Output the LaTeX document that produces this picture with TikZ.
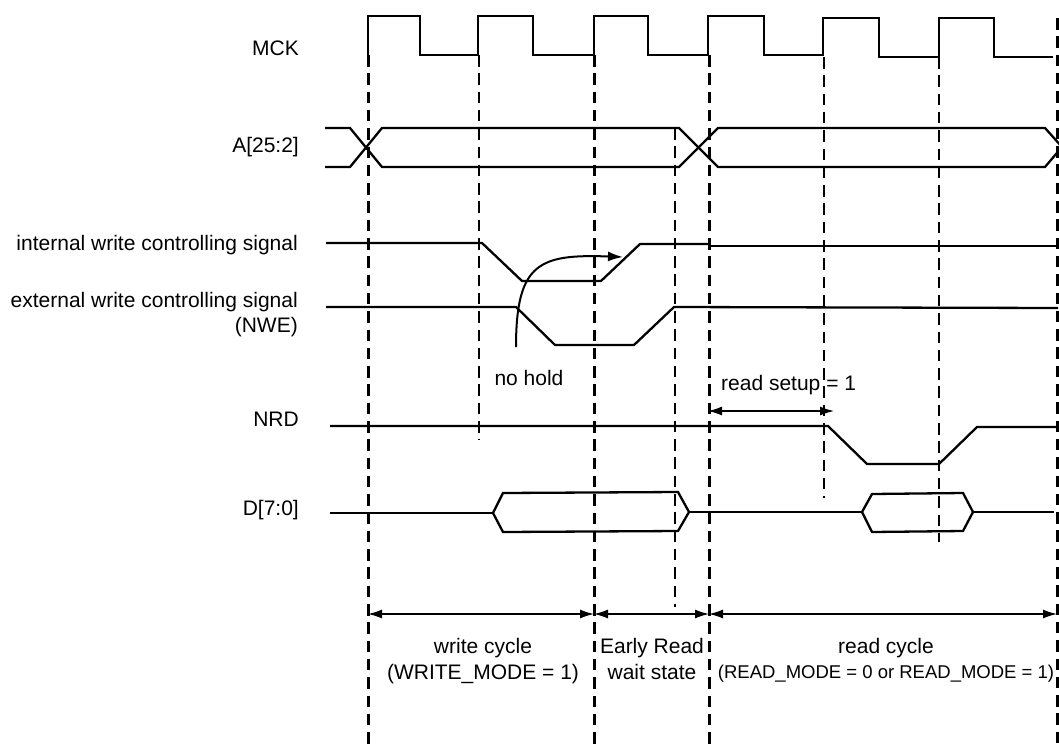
\documentclass[tikz,border=0pt]{standalone}
\usepackage{fontspec}
\setmainfont{Liberation Sans}
\usetikzlibrary{arrows.meta}
\begin{document}
\begin{tikzpicture}[x=1pt,y=-1pt,
  sig/.style={line width=2.3pt, line join=miter},
  thickguide/.style={line width=3pt, dash pattern=on 11.5pt off 6.8pt},
  thinguide/.style={line width=1.3pt, dash pattern=on 11.5pt off 6.8pt},
  lbl/.style={font=\fontsize{21}{25}\selectfont, inner sep=0pt},
  smalllbl/.style={font=\fontsize{18.5}{22}\selectfont, inner sep=0pt},
  dim/.style={line width=1.4pt, {Latex[length=14pt,width=9pt]}-{Latex[length=14pt,width=9pt]}}]
\useasboundingbox (0,0) rectangle (1059,744);
\fill[white] (0,0) rectangle (1059,744);

% signal labels
\node[lbl,anchor=base east] (mck) at (299,55) {MCK};
\node[lbl,anchor=base east] (abus) at (299,152) {A[25:2]};
\node[lbl,anchor=base east] (iw) at (298,250) {internal write controlling signal};
\node[lbl,anchor=base east] (ew) at (298,307) {external write controlling signal};
\node[lbl,anchor=base east] (nwe) at (298,332) {(NWE)};
\node[lbl,anchor=base east] (nrd) at (299,426) {NRD};
\node[lbl,anchor=base east] (dbus) at (299,515) {D[7:0]};

% thick dashed guides
\draw[thickguide] (368,55) -- (368,744);
\draw[thickguide] (594,55) -- (594,744);
\draw[thickguide] (709,55) -- (709,744);
\draw[thickguide] (1057,18) -- (1057,744);
% thin dashed guides
\draw[thinguide] (479,55) -- (479,440);
\draw[thinguide] (675,128) -- (675,607);
\draw[thinguide] (824,57) -- (824,498);
\draw[thinguide] (939,57) -- (939,542);

% MCK
\draw[sig] (368,55) -- (368,16) -- (420,16) -- (420,55) -- (478,55) -- (478,16)
  -- (533,16) -- (533,55) -- (594,55) -- (594,16) -- (648,16) -- (648,55)
  -- (708,55) -- (708,16) -- (764,16) -- (764,55) -- (823,55) -- (823,18)
  -- (879,18) -- (879,57) -- (939,57) -- (939,18) -- (994,18) -- (994,57) -- (1053,57);

% A bus
\draw[sig] (325,128) -- (350,128) -- (382,167) -- (679,167) -- (718,128) -- (1045,128) -- (1062,147);
\draw[sig] (325,167) -- (350,167) -- (382,128) -- (679,128) -- (718,167) -- (1045,167) -- (1062,147);

% internal write
\draw[sig] (326,243) -- (482,243) -- (522,281) -- (601,281) -- (640,244) -- (709,244);
\draw[sig] (709,246) -- (1058,246);
% external write
\draw[sig] (326,307) -- (516,307) -- (555,345) -- (634,345) -- (674,307) -- (1058,308);

% no hold arrow
\coordinate (nhs) at (516,347);
\coordinate (nhe) at (623,257);
\draw[line width=2pt, -{Latex[length=15pt,width=10pt]}] (nhs) .. controls (516,262) and (540,254) .. (nhe);
\node[lbl,anchor=base] (nohold) at (529,385) {no hold};

% read setup
\coordinate (rs1) at (708,411);
\coordinate (rs2) at (834,411);
\draw[dim] (rs1) -- (rs2);
\node[lbl,anchor=base west] (rsetup) at (721,390) {read setup = 1};

% NRD
\draw[sig] (330,426) -- (828,426) -- (867,464) -- (939,464) -- (977,427) -- (1058,427);

% D bus
\draw[sig] (330,513) -- (493,513);
\draw[sig] (493,513) -- (503,493) -- (678,492) -- (689,512) -- (678,531) -- (503,532) -- cycle;
\draw[sig] (689,512) -- (862,512);
\draw[sig] (862,512) -- (872,494) -- (963,493) -- (973,512) -- (963,531) -- (872,532) -- cycle;
\draw[sig] (973,512) -- (1054,512);

% cycle arrows
\coordinate (c1) at (368,614);
\coordinate (c2) at (594,614);
\coordinate (c3) at (709,614);
\coordinate (c4) at (1057,614);
\draw[dim] (c1) -- (c2);
\draw[dim] (c2) -- (c3);
\draw[dim] (c3) -- (c4);

\node[lbl,anchor=base] (wc1) at (483,653) {write cycle};
\node[lbl,anchor=base] (wc2) at (483,679) {(WRITE\_MODE = 1)};
\node[lbl,anchor=base] (er1) at (652,653) {Early Read};
\node[lbl,anchor=base] (er2) at (652,679) {wait state};
\node[lbl,anchor=base] (rc1) at (886,653) {read cycle};
\node[smalllbl,anchor=base] (rc2) at (886,678) {(READ\_MODE = 0 or READ\_MODE = 1)};
\end{tikzpicture}
\end{document}
